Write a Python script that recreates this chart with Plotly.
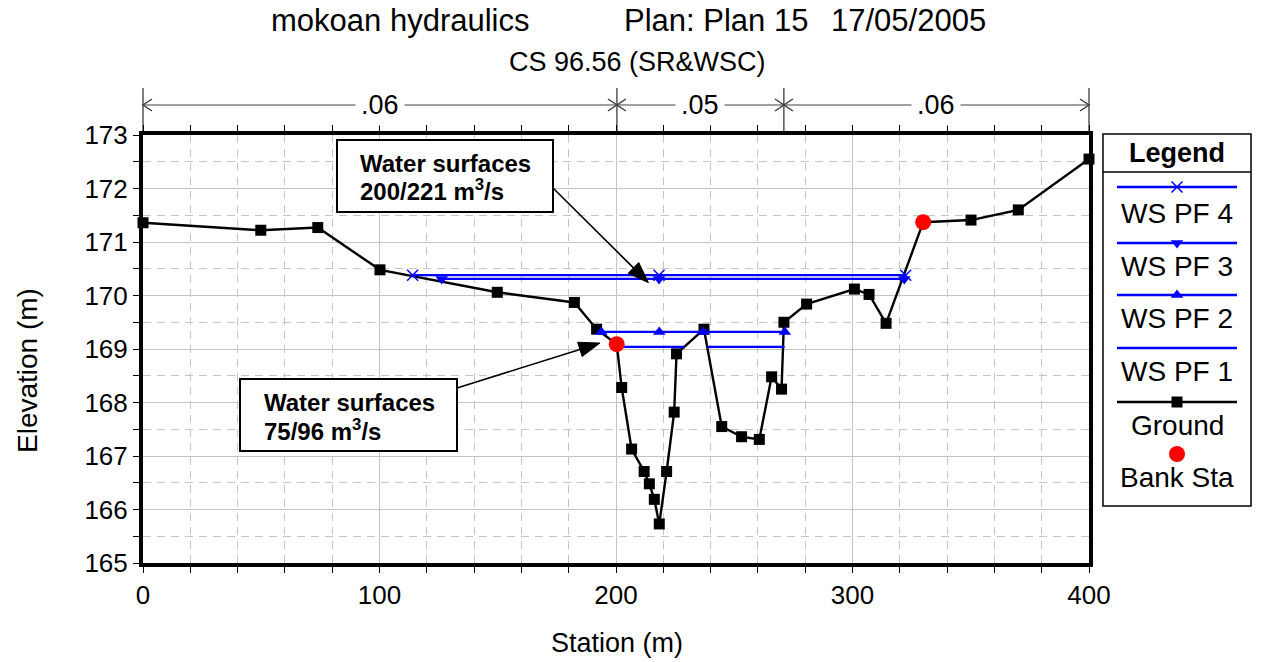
import math
import plotly.graph_objects as go

# ---------------- data ----------------
station = [0.0, 49.8, 73.9, 100.2, 149.8, 182.4, 191.8, 200.3, 202.4, 206.6, 211.9, 214.1,
           216.2, 218.3, 221.4, 224.6, 225.6, 237.2, 244.7, 253.1, 260.6, 265.8, 270.0,
           271.0, 280.6, 300.8, 307.0, 314.2, 329.9, 350.1, 370.1, 400.0]
elevation = [171.36, 171.22, 171.27, 170.48, 170.06, 169.87, 169.37, 169.09, 168.28, 167.13,
             166.71, 166.48, 166.19, 165.73, 166.71, 167.82, 168.91, 169.37, 167.55, 167.36,
             167.31, 168.48, 168.25, 169.50, 169.84, 170.12, 170.02, 169.48, 171.37, 171.41,
             171.60, 172.55]
bank_station = [200.3, 329.9]
bank_elevation = [169.09, 171.37]

ws_pf4_station = [114.0, 218.2, 322.5]
ws_pf4_elev = [170.38, 170.38, 170.38]
ws_pf3_station = [126.3, 218.2, 321.9]
ws_pf3_elev = [170.31, 170.31, 170.31]
ws_pf2_station = [193.8, 218.3, 236.9, 271.4]
ws_pf2_elev = [169.32, 169.32, 169.32, 169.32]
ws_pf1_station = [200.4, 228.8, None, 238.5, 271.3]
ws_pf1_elev = [169.04, 169.04, None, 169.04, 169.04]

n_breaks = [0.0, 200.4, 271.0, 400.0]
n_values = [0.06, 0.05, 0.06]

legend_names = ["WS PF 4", "WS PF 3", "WS PF 2", "WS PF 1", "Ground", "Bank Sta"]

title_parts = ["mokoan hydraulics", "Plan: Plan 15", "17/05/2005"]
subtitle = "CS 96.56 (SR&WSC)"
callout_lines = [["Water surfaces", "200/221 m<sup>3</sup>/s"],
                 ["Water surfaces", "75/96 m<sup>3</sup>/s"]]
callout_targets_station = [213.7, 193.2]
callout_targets_elev = [170.24, 169.11]

# ---------------- layout helpers ----------------
W, H = 1263, 662
L, R, T, B = 143, 1089, 135, 563
PW = W - L  # paper width (right margin 0)
PH = B - T
XMIN, XMAX = 0, 400
YMIN, YMAX = 165, 173

def px_x(px):
    return (px - L) / PW

def px_y(py):
    return (B - py) / PH

def dx_px(x):
    return L + (x - XMIN) / (XMAX - XMIN) * (R - L)

def dy_px(y):
    return B - (y - YMIN) / (YMAX - YMIN) * (B - T)

FONT = "Arial, Liberation Sans, sans-serif"
BLUE = "#0000ff"
GRID = "#c4c4c4"

fig = go.Figure()

# ---------------- traces ----------------
fig.add_trace(go.Scatter(x=station, y=elevation, mode="lines+markers",
                         line=dict(color="black", width=2.4),
                         marker=dict(symbol="square", size=11, color="black"),
                         cliponaxis=False, name="Ground"))
fig.add_trace(go.Scatter(x=ws_pf1_station, y=ws_pf1_elev, mode="lines",
                         line=dict(color=BLUE, width=2.4), cliponaxis=False, name="WS PF 1"))
fig.add_trace(go.Scatter(x=ws_pf2_station, y=ws_pf2_elev, mode="lines+markers",
                         line=dict(color=BLUE, width=2.4),
                         marker=dict(symbol="triangle-up", size=11, color=BLUE),
                         cliponaxis=False, name="WS PF 2"))
fig.add_trace(go.Scatter(x=ws_pf3_station, y=ws_pf3_elev, mode="lines+markers",
                         line=dict(color=BLUE, width=2.4),
                         marker=dict(symbol="triangle-down", size=11, color=BLUE),
                         cliponaxis=False, name="WS PF 3"))
fig.add_trace(go.Scatter(x=ws_pf4_station, y=ws_pf4_elev, mode="lines+markers",
                         line=dict(color=BLUE, width=2.4),
                         marker=dict(symbol="x-thin", size=11, color=BLUE,
                                     line=dict(color=BLUE, width=1.5)),
                         cliponaxis=False, name="WS PF 4"))
fig.add_trace(go.Scatter(x=bank_station, y=bank_elevation, mode="markers",
                         marker=dict(symbol="circle", size=16, color="#ff0000"),
                         cliponaxis=False, name="Bank Sta"))

shapes = []
annotations = []

# ---------------- custom legend (drawn on a hidden pixel-unit axis pair) ----------------
LG_L, LG_R, LG_T, LG_B = 1103, 1251, 134, 506
LG_C = (LG_L + LG_R) / 2
shapes.append(dict(type="rect", xref="paper", yref="paper",
                   x0=px_x(LG_L), x1=px_x(LG_R), y0=px_y(LG_B), y1=px_y(LG_T),
                   line=dict(color="black", width=1.5), fillcolor="rgba(0,0,0,0)", layer="above"))
shapes.append(dict(type="line", xref="paper", yref="paper",
                   x0=px_x(LG_L), x1=px_x(LG_R), y0=px_y(172), y1=px_y(172),
                   line=dict(color="black", width=1.5), layer="above"))
annotations.append(dict(text="<b>Legend</b>", xref="paper", yref="paper",
                        x=px_x(LG_C), y=px_y(153), xanchor="center", yanchor="middle",
                        showarrow=False, font=dict(family=FONT, size=27, color="black")))

legend_rows = [
    # sample y, text y, line colour, marker
    (187, 213, BLUE, dict(symbol="x-thin", size=11, color=BLUE, line=dict(color=BLUE, width=1.5))),
    (243, 266, BLUE, dict(symbol="triangle-down", size=11, color=BLUE)),
    (295, 318, BLUE, dict(symbol="triangle-up", size=11, color=BLUE)),
    (348, 371, BLUE, None),
    (402, 425, "black", dict(symbol="square", size=11, color="black")),
    (454, 477, None, dict(symbol="circle", size=16, color="#ff0000")),
]
for name, (sy, ty, lc, mk) in zip(legend_names, legend_rows):
    if lc is not None:
        fig.add_trace(go.Scatter(x=[1117, 1237], y=[sy, sy], xaxis="x2", yaxis="y2", mode="lines",
                                 line=dict(color=lc, width=2.4), cliponaxis=False,
                                 showlegend=False, hoverinfo="skip"))
    if mk is not None:
        fig.add_trace(go.Scatter(x=[LG_C], y=[sy], xaxis="x2", yaxis="y2", mode="markers",
                                 marker=mk, cliponaxis=False, showlegend=False, hoverinfo="skip"))
    annotations.append(dict(text=name, xref="paper", yref="paper",
                            x=px_x(LG_C), y=px_y(ty), xanchor="center", yanchor="middle",
                            showarrow=False, font=dict(family=FONT, size=28, color="black")))

# ---------------- n-value bar ----------------
NB_Y = 105
for xb in n_breaks:
    shapes.append(dict(type="line", xref="paper", yref="paper",
                       x0=px_x(dx_px(xb)), x1=px_x(dx_px(xb)), y0=px_y(88), y1=px_y(T),
                       line=dict(color="black", width=1)))
for i, nv in enumerate(n_values):
    a, b = dx_px(n_breaks[i]), dx_px(n_breaks[i + 1])
    shapes.append(dict(type="line", xref="paper", yref="paper",
                       x0=px_x(a), x1=px_x(b), y0=px_y(NB_Y), y1=px_y(NB_Y),
                       line=dict(color="#808080", width=1.5)))
    for tip, back in ((a, a + 9), (b, b - 9)):
        path = "M{},{} L{},{} L{},{}".format(px_x(back), px_y(NB_Y - 6), px_x(tip), px_y(NB_Y),
                                             px_x(back), px_y(NB_Y + 6))
        shapes.append(dict(type="path", xref="paper", yref="paper", path=path,
                           line=dict(color="#404040", width=1.5)))
    label = ("%.2f" % nv).lstrip("0")
    annotations.append(dict(text=label, xref="paper", yref="paper",
                            x=px_x((a + b) / 2), y=px_y(NB_Y), xanchor="center", yanchor="middle",
                            showarrow=False, bgcolor="white", borderpad=5,
                            font=dict(family=FONT, size=27, color="black")))

# ---------------- titles ----------------
for txt, cx in zip(title_parts, [400, 716, 908]):
    annotations.append(dict(text=txt, xref="paper", yref="paper", x=px_x(cx), y=px_y(21),
                            xanchor="center", yanchor="middle", showarrow=False,
                            font=dict(family=FONT, size=31, color="black")))
annotations.append(dict(text=subtitle, xref="paper", yref="paper", x=px_x(637), y=px_y(62),
                        xanchor="center", yanchor="middle", showarrow=False,
                        font=dict(family=FONT, size=27, color="black")))
annotations.append(dict(text="Station (m)", xref="paper", yref="paper", x=px_x(617), y=px_y(643),
                        xanchor="center", yanchor="middle", showarrow=False,
                        font=dict(family=FONT, size=27, color="black")))
annotations.append(dict(text="Elevation (m)", xref="paper", yref="paper", x=px_x(27), y=px_y(370),
                        xanchor="center", yanchor="middle", showarrow=False, textangle=-90,
                        font=dict(family=FONT, size=28, color="black")))

# ---------------- callout boxes with arrows ----------------
boxes = [
    # (left, top, right, bottom), text left, line centres, arrow tail px
    ((337, 140, 553, 212), 358, (163, 190), (553, 188)),
    ((240, 379, 457, 451), 262, (402, 430), (457, 388)),
]
HEAD_LEN, HEAD_HALF = 21, 7.5
for lines, ((bl, bt, br, bb), tl, lys, (tx, ty)), hx, hy in zip(
        callout_lines, boxes, callout_targets_station, callout_targets_elev):
    shapes.append(dict(type="rect", xref="paper", yref="paper",
                       x0=px_x(bl), x1=px_x(br), y0=px_y(bb), y1=px_y(bt),
                       line=dict(color="black", width=2), fillcolor="white", layer="above"))
    for txt, ly in zip(lines, lys):
        annotations.append(dict(text="<b>" + txt + "</b>", xref="paper", yref="paper",
                                x=px_x(tl), y=px_y(ly), xanchor="left", yanchor="middle",
                                align="left", showarrow=False,
                                font=dict(family=FONT, size=24, color="black")))
    # arrow: tip at the data point, tail at box edge
    px_tip, py_tip = dx_px(hx), dy_px(hy)
    dxp, dyp = px_tip - tx, py_tip - ty
    ln = math.hypot(dxp, dyp)
    ux, uy = dxp / ln, dyp / ln
    bx, by = px_tip - ux * HEAD_LEN, py_tip - uy * HEAD_LEN
    shapes.append(dict(type="line", xref="paper", yref="paper",
                       x0=px_x(tx), y0=px_y(ty), x1=px_x(bx), y1=px_y(by),
                       line=dict(color="black", width=1.6), layer="above"))
    p1 = (bx - uy * HEAD_HALF, by + ux * HEAD_HALF)
    p2 = (bx + uy * HEAD_HALF, by - ux * HEAD_HALF)
    path = "M{},{} L{},{} L{},{} Z".format(px_x(px_tip), px_y(py_tip), px_x(p1[0]), px_y(p1[1]),
                                           px_x(p2[0]), px_y(p2[1]))
    shapes.append(dict(type="path", xref="paper", yref="paper", path=path,
                       line=dict(color="black", width=1), fillcolor="black", layer="above"))

axis_common = dict(showline=True, linewidth=4, linecolor="black", ticks="outside", ticklen=6,
                   tickwidth=1, tickcolor="black", showgrid=True, gridcolor=GRID, gridwidth=1,
                   zeroline=False, automargin=False,
                   tickfont=dict(family=FONT, size=26, color="black"))

fig.update_layout(
    width=W, height=H,
    margin=dict(l=L, r=0, t=T, b=H - B, pad=0, autoexpand=False),
    paper_bgcolor="white", plot_bgcolor="white",
    showlegend=False,
    xaxis=dict(domain=[0, px_x(R)], range=[XMIN, XMAX], tick0=0, dtick=100, mirror="allticks",
               minor=dict(dtick=20, ticks="outside", ticklen=6, tickcolor="black", showgrid=True,
                          gridcolor=GRID, griddash="8px,6px"),
               **axis_common),
    yaxis=dict(domain=[0, 1], range=[YMIN, YMAX], tick0=165, dtick=1, mirror=True,
               minor=dict(dtick=0.5, ticks="outside", ticklen=6, tickcolor="black", showgrid=True,
                          gridcolor=GRID, griddash="8px,6px"),
               **axis_common),
    xaxis2=dict(domain=[px_x(LG_L), px_x(LG_R)], range=[LG_L, LG_R], visible=False,
                anchor="y2", automargin=False),
    yaxis2=dict(domain=[0, 1], range=[B, T], visible=False, anchor="x2", automargin=False),
    shapes=shapes,
    annotations=annotations,
)

fig.write_html("out.html")
